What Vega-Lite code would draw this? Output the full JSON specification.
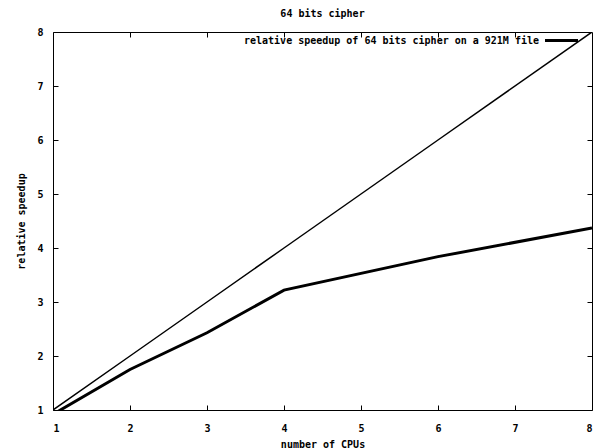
{
  "$schema": "https://vega.github.io/schema/vega-lite/v6.json",
  "width": 539,
  "height": 378,
  "autosize": "none",
  "padding": {"left": 53, "top": 32, "right": 10, "bottom": 38},
  "background": "white",
  "title": {"text": "64 bits cipher", "font": "DejaVu Sans Mono", "fontSize": 10, "fontWeight": "bold", "color": "black", "offset": 8},
  "config": {
    "view": {"stroke": "black", "strokeWidth": 1},
    "axis": {"labelFont": "DejaVu Sans Mono", "labelFontSize": 10, "labelFontWeight": "bold", "labelColor": "black", "titleFont": "DejaVu Sans Mono", "titleFontSize": 10, "titleFontWeight": "bold", "titleColor": "black", "domain": false, "grid": false, "tickColor": "black", "tickSize": 5, "tickWidth": 1, "offset": -5},
    "legend": {"labelFont": "DejaVu Sans Mono", "labelFontSize": 10, "labelFontWeight": "bold", "labelColor": "black"}
  },
  "data": {"values": [
    {"cpus": 1, "speedup": 1, "series": "ideal"},
    {"cpus": 2, "speedup": 2, "series": "ideal"},
    {"cpus": 3, "speedup": 3, "series": "ideal"},
    {"cpus": 4, "speedup": 4, "series": "ideal"},
    {"cpus": 6, "speedup": 6, "series": "ideal"},
    {"cpus": 8, "speedup": 8, "series": "ideal"},
    {"cpus": 1, "speedup": 0.92, "series": "relative speedup of 64 bits cipher on a 921M file"},
    {"cpus": 2, "speedup": 1.75, "series": "relative speedup of 64 bits cipher on a 921M file"},
    {"cpus": 3, "speedup": 2.43, "series": "relative speedup of 64 bits cipher on a 921M file"},
    {"cpus": 4, "speedup": 3.22, "series": "relative speedup of 64 bits cipher on a 921M file"},
    {"cpus": 6, "speedup": 3.84, "series": "relative speedup of 64 bits cipher on a 921M file"},
    {"cpus": 8, "speedup": 4.37, "series": "relative speedup of 64 bits cipher on a 921M file"}
  ]},
  "layer": [
    {
      "transform": [{"filter": "datum.series === 'ideal'"}],
      "mark": {"type": "line", "color": "black", "strokeWidth": 1.5, "clip": true},
      "encoding": {
        "x": {"field": "cpus", "type": "quantitative", "scale": {"domain": [1, 8], "nice": false, "zero": false}, "axis": {"title": "number of CPUs", "values": [1,2,3,4,5,6,7,8], "labelPadding": 13, "titlePadding": 6}},
        "y": {"field": "speedup", "type": "quantitative", "scale": {"domain": [1, 8], "nice": false, "zero": false}, "axis": {"title": "relative speedup", "values": [1,2,3,4,5,6,7,8], "labelPadding": 10, "titlePadding": 10}}
      }
    },
    {
      "transform": [{"filter": "datum.series !== 'ideal'"}],
      "mark": {"type": "line", "strokeWidth": 3, "clip": true},
      "encoding": {
        "x": {"field": "cpus", "type": "quantitative", "axis": null},
        "y": {"field": "speedup", "type": "quantitative", "axis": null},
        "color": {"field": "series", "type": "nominal", "scale": {"range": ["black"]}, "legend": {"title": null, "orient": "top-right", "offset": 2, "padding": 0, "symbolType": "M-3.3,0H3.3M4.5,0", "symbolStrokeWidth": 3, "symbolSize": 100, "labelOffset": -29, "labelAlign": "right", "labelLimit": 0}}
      }
    },
    {
      "mark": {"type": "line", "opacity": 0},
      "encoding": {
        "x": {"field": "cpus", "type": "quantitative", "axis": {"orient": "top", "labels": false, "title": null, "values": [2,3,4,5,6,7]}},
        "y": {"field": "speedup", "type": "quantitative", "axis": {"orient": "right", "labels": false, "title": null, "values": [2,3,4,5,6,7]}}
      }
    }
  ],
  "resolve": {"axis": {"x": "independent", "y": "independent"}}
}
